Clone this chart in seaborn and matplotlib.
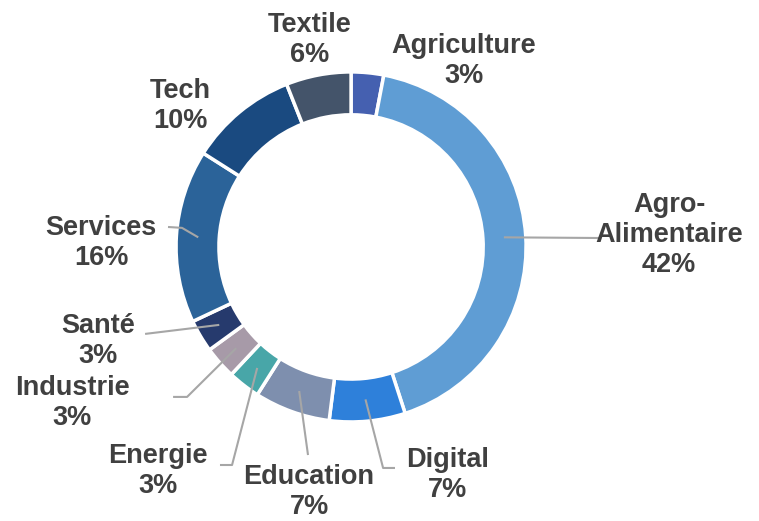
import matplotlib
matplotlib.use("Agg")
import matplotlib.pyplot as plt
import seaborn as sns
import numpy as np

sns.set_theme(style="white")
plt.rcParams['font.family'] = ['Liberation Sans', 'DejaVu Sans']

categories = ["Agriculture", "Agro-\nAlimentaire", "Digital", "Education", "Energie",
              "Industrie", "Santé", "Services", "Tech", "Textile"]
values = [3, 42, 7, 7, 3, 3, 3, 16, 10, 6]
colors = ["#4560B0", "#5F9DD4", "#2E80DA", "#7E8FAE", "#48A6A8",
          "#A79AA8", "#263A6D", "#2B6399", "#1A4A80", "#44546A"]

# label anchor positions (baseline of last line; pie radius = 1)
label_pos = [(0.646, 0.937), (1.817, -0.143), (0.549, -1.429), (-0.24, -1.528),
             (-1.103, -1.406), (-1.594, -1.017), (-1.446, -0.663), (-1.429, -0.103),
             (-0.977, 0.68), (-0.234, 1.057)]
# leader polylines after the wedge start point (None = no leader)
leaders = [None,
           [(1.423, 0.051)],
           [(0.183, -1.263), (0.251, -1.263)],
           [(-0.246, -1.189)],
           [(-0.68, -1.246), (-0.749, -1.246)],
           [(-0.937, -0.857), (-1.017, -0.857)],
           [(-1.177, -0.497)],
           [(-0.966, 0.109), (-1.046, 0.114)],
           None, None]

fig = plt.figure(figsize=(7.59, 5.21), dpi=100)
ax = fig.add_axes([0, 0, 1, 1])
wedges, _ = ax.pie(values, colors=colors, startangle=90, counterclock=False,
                   radius=1.0, wedgeprops=dict(width=0.245, edgecolor="white", linewidth=2.5))

total = sum(values)
cum = 0
for i, (cat, v) in enumerate(zip(categories, values)):
    mid = 90 - (cum + v / 2) / total * 360
    cum += v
    if leaders[i] is not None:
        r = 0.875
        sx, sy = r * np.cos(np.radians(mid)), r * np.sin(np.radians(mid))
        pts = [(sx, sy)] + leaders[i]
        xs, ys = zip(*pts)
        ax.plot(xs, ys, color="#A6A6A6", lw=1.5, solid_capstyle="butt", zorder=3)
    lx, ly = label_pos[i]
    ax.text(lx, ly, f"{cat}\n{v}%", ha="center", va="baseline", fontsize=19.5,
            fontweight="bold", color="#404040", linespacing=1.2,
            multialignment="center")

ax.set_xlim(-2.006, 2.331)
ax.set_ylim(-1.566, 1.411)
ax.set_aspect("auto")
ax.axis("off")
fig.savefig("out.png", dpi=100, facecolor="white")
